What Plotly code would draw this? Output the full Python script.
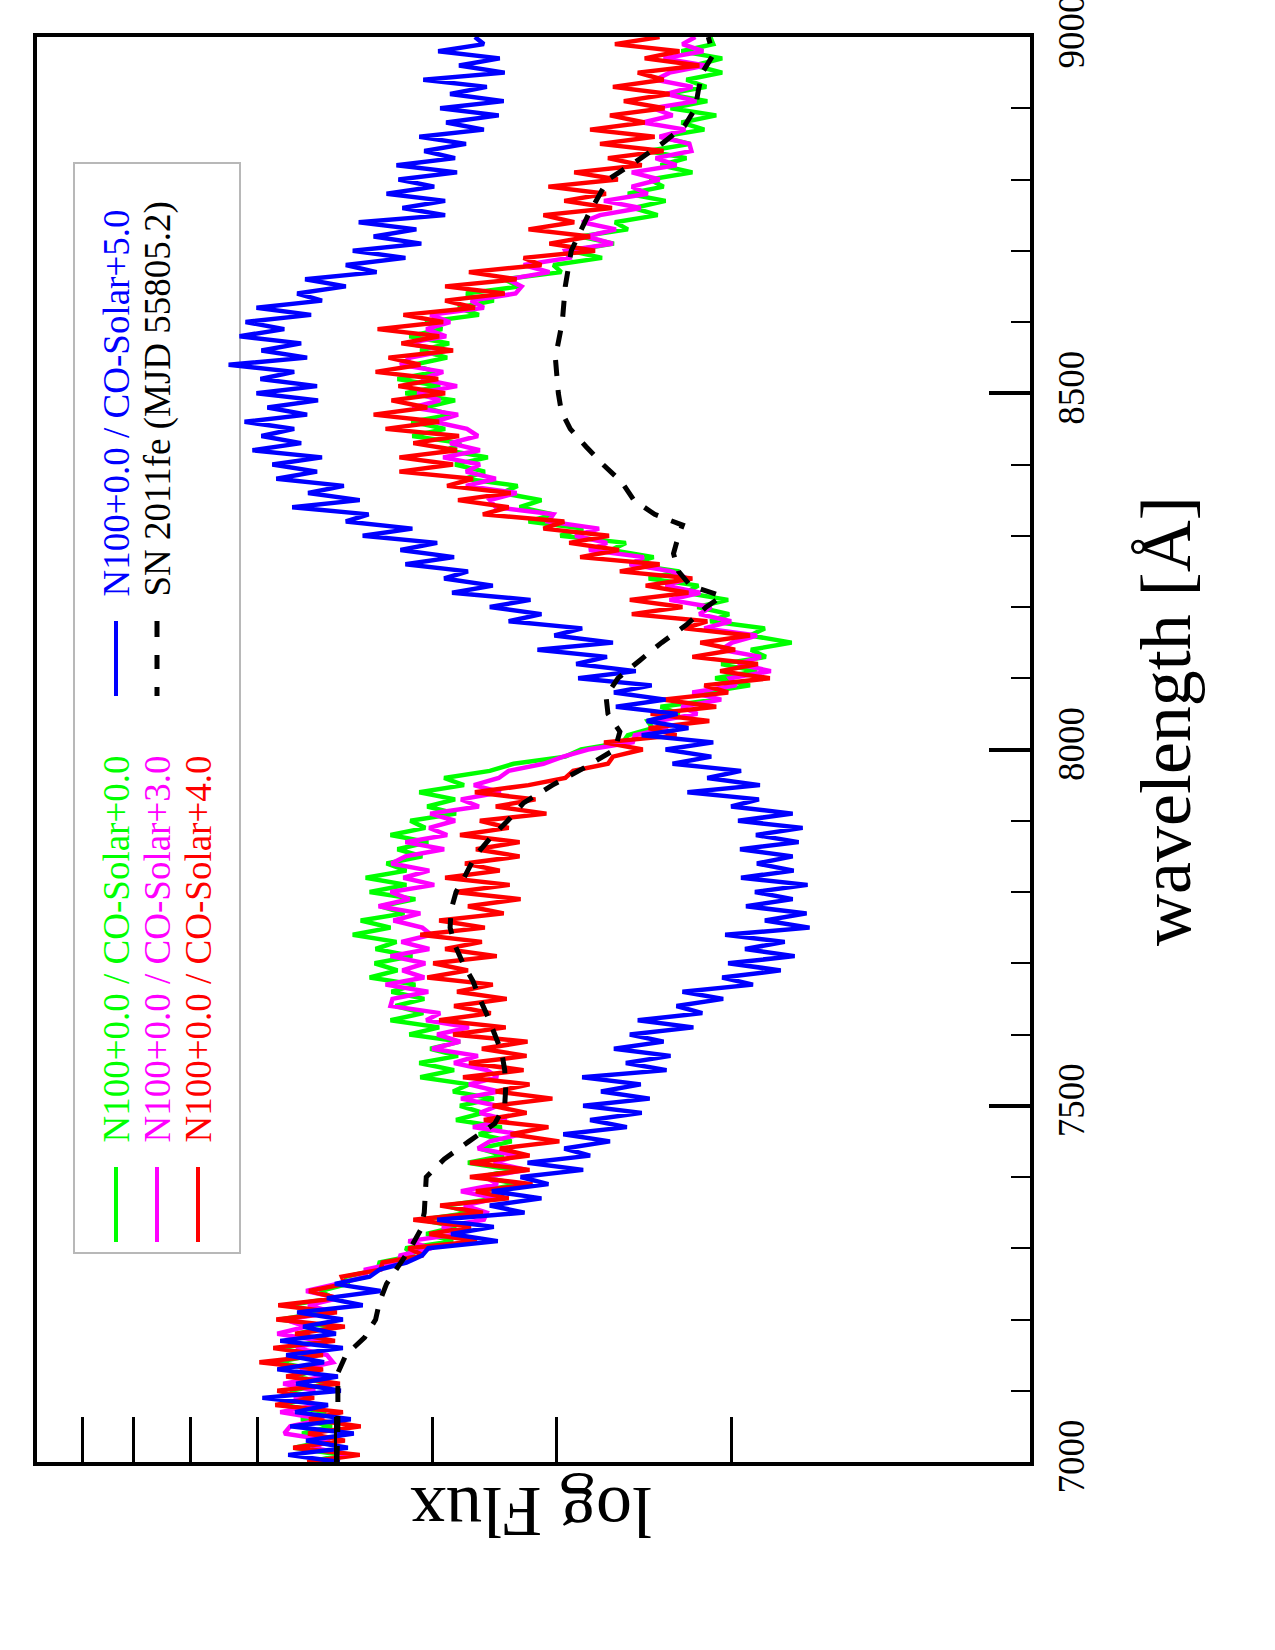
import numpy as np
import plotly.graph_objects as go

# ---------------- data ----------------
# wavelength grid of the model spectra (Angstrom)
wavelength = list(range(7000, 9001, 10))

# log Flux (decades)
green = [
    0.725, 0.694, 0.741, 0.707, 0.733,
    0.703, 0.734, 0.709, 0.753, 0.724,
    0.745, 0.705, 0.740, 0.718, 0.760,
    0.720, 0.753, 0.712, 0.738, 0.706,
    0.755, 0.712, 0.747, 0.701, 0.715,
    0.687, 0.689, 0.657, 0.655, 0.620,
    0.629, 0.581, 0.608, 0.578, 0.612,
    0.564, 0.588, 0.538, 0.555, 0.514,
    0.554, 0.521, 0.566, 0.530, 0.554,
    0.522, 0.555, 0.532, 0.578, 0.551,
    0.574, 0.540, 0.581, 0.565, 0.614,
    0.580, 0.615, 0.576, 0.604, 0.574,
    0.625, 0.595, 0.644, 0.611, 0.639,
    0.610, 0.643, 0.619, 0.665, 0.637,
    0.660, 0.622, 0.659, 0.638, 0.682,
    0.644, 0.674, 0.630, 0.654, 0.619,
    0.665, 0.628, 0.669, 0.628, 0.648,
    0.612, 0.637, 0.606, 0.644, 0.609,
    0.624, 0.578, 0.607, 0.579, 0.615,
    0.570, 0.590, 0.544, 0.520, 0.468,
    0.452, 0.410, 0.405, 0.380, 0.385,
    0.353, 0.372, 0.317, 0.328, 0.282,
    0.317, 0.275, 0.311, 0.266, 0.281,
    0.240, 0.282, 0.267, 0.322, 0.303,
    0.335, 0.304, 0.347, 0.334, 0.384,
    0.353, 0.403, 0.379, 0.422, 0.407,
    0.473, 0.450, 0.505, 0.480, 0.514,
    0.492, 0.532, 0.516, 0.569, 0.549,
    0.579, 0.546, 0.588, 0.573, 0.622,
    0.589, 0.623, 0.583, 0.610, 0.579,
    0.629, 0.594, 0.637, 0.599, 0.621,
    0.587, 0.614, 0.585, 0.625, 0.592,
    0.609, 0.555, 0.576, 0.540, 0.568,
    0.514, 0.530, 0.472, 0.480, 0.431,
    0.463, 0.419, 0.453, 0.405, 0.418,
    0.375, 0.399, 0.367, 0.405, 0.369,
    0.383, 0.340, 0.372, 0.346, 0.385,
    0.342, 0.372, 0.328, 0.351, 0.316,
    0.362, 0.325, 0.366, 0.326, 0.346,
    0.310, 0.338, 0.310, 0.351, 0.319,
    0.322,
]

magenta = [
    0.720, 0.684, 0.723, 0.705, 0.751,
    0.745, 0.711, 0.755, 0.718, 0.741,
    0.720, 0.752, 0.710, 0.735, 0.702,
    0.708, 0.739, 0.714, 0.758, 0.729,
    0.750, 0.701, 0.727, 0.696, 0.729,
    0.698, 0.669, 0.669, 0.636, 0.634,
    0.603, 0.626, 0.575, 0.592, 0.550,
    0.547, 0.570, 0.537, 0.573, 0.536,
    0.549, 0.507, 0.540, 0.516, 0.556,
    0.544, 0.513, 0.561, 0.527, 0.554,
    0.536, 0.573, 0.535, 0.565, 0.536,
    0.547, 0.580, 0.556, 0.602, 0.574,
    0.597, 0.565, 0.608, 0.594, 0.644,
    0.642, 0.606, 0.649, 0.610, 0.632,
    0.609, 0.644, 0.605, 0.633, 0.603,
    0.612, 0.641, 0.614, 0.656, 0.625,
    0.644, 0.600, 0.631, 0.605, 0.643,
    0.629, 0.590, 0.629, 0.587, 0.605,
    0.579, 0.604, 0.555, 0.573, 0.533,
    0.560, 0.535, 0.525, 0.490, 0.470,
    0.445, 0.400, 0.398, 0.365, 0.375,
    0.335, 0.351, 0.311, 0.340, 0.296,
    0.302, 0.261, 0.294, 0.271, 0.311,
    0.300, 0.275, 0.328, 0.301, 0.333,
    0.321, 0.363, 0.332, 0.367, 0.345,
    0.361, 0.403, 0.389, 0.444, 0.426,
    0.458, 0.434, 0.485, 0.480, 0.538,
    0.544, 0.517, 0.568, 0.538, 0.568,
    0.554, 0.591, 0.554, 0.584, 0.556,
    0.567, 0.600, 0.576, 0.622, 0.594,
    0.617, 0.577, 0.613, 0.591, 0.634,
    0.624, 0.587, 0.628, 0.588, 0.608,
    0.584, 0.604, 0.550, 0.563, 0.518,
    0.512, 0.526, 0.484, 0.510, 0.464,
    0.468, 0.420, 0.447, 0.417, 0.451,
    0.433, 0.392, 0.429, 0.385, 0.401,
    0.373, 0.401, 0.356, 0.377, 0.341,
    0.343, 0.373, 0.347, 0.390, 0.360,
    0.380, 0.336, 0.366, 0.340, 0.377,
    0.363, 0.327, 0.369, 0.329, 0.350,
    0.337,
]

red = [
    0.728, 0.675, 0.742, 0.690, 0.727,
    0.674, 0.726, 0.692, 0.760, 0.721,
    0.758, 0.695, 0.749, 0.712, 0.776,
    0.712, 0.762, 0.700, 0.740, 0.690,
    0.759, 0.698, 0.757, 0.697, 0.726,
    0.690, 0.693, 0.654, 0.652, 0.611,
    0.626, 0.557, 0.605, 0.563, 0.621,
    0.551, 0.594, 0.525, 0.558, 0.501,
    0.564, 0.504, 0.564, 0.504, 0.534,
    0.474, 0.523, 0.485, 0.550, 0.507,
    0.541, 0.481, 0.538, 0.504, 0.571,
    0.510, 0.565, 0.507, 0.552, 0.506,
    0.581, 0.528, 0.595, 0.543, 0.580,
    0.527, 0.577, 0.541, 0.607, 0.566,
    0.601, 0.537, 0.589, 0.552, 0.614,
    0.549, 0.595, 0.530, 0.566, 0.513,
    0.579, 0.524, 0.589, 0.534, 0.569,
    0.514, 0.558, 0.514, 0.574, 0.525,
    0.554, 0.487, 0.538, 0.498, 0.559,
    0.505, 0.468, 0.460, 0.425, 0.420,
    0.390, 0.429, 0.356, 0.384, 0.323,
    0.382, 0.316, 0.370, 0.304, 0.328,
    0.262, 0.312, 0.274, 0.340, 0.297,
    0.332, 0.282, 0.348, 0.325, 0.401,
    0.350, 0.403, 0.344, 0.387, 0.340,
    0.413, 0.373, 0.453, 0.414, 0.464,
    0.424, 0.490, 0.469, 0.551, 0.525,
    0.576, 0.523, 0.587, 0.561, 0.635,
    0.581, 0.635, 0.577, 0.621, 0.575,
    0.649, 0.595, 0.661, 0.607, 0.643,
    0.589, 0.636, 0.596, 0.659, 0.614,
    0.646, 0.581, 0.633, 0.595, 0.657,
    0.591, 0.631, 0.559, 0.589, 0.529,
    0.589, 0.517, 0.565, 0.492, 0.510,
    0.438, 0.484, 0.443, 0.505, 0.459,
    0.490, 0.421, 0.469, 0.427, 0.485,
    0.415, 0.459, 0.391, 0.425, 0.369,
    0.433, 0.378, 0.443, 0.388, 0.423,
    0.368, 0.409, 0.363, 0.420, 0.369,
    0.395, 0.333, 0.388, 0.353, 0.418,
    0.373,
]

blue = [
    0.695, 0.747, 0.687, 0.729, 0.681,
    0.745, 0.684, 0.740, 0.707, 0.773,
    0.694, 0.739, 0.697, 0.758, 0.711,
    0.749, 0.692, 0.755, 0.699, 0.732,
    0.692, 0.738, 0.672, 0.708, 0.654,
    0.700, 0.665, 0.655, 0.628, 0.612,
    0.606, 0.536, 0.583, 0.540, 0.597,
    0.509, 0.544, 0.492, 0.542, 0.485,
    0.513, 0.450, 0.506, 0.443, 0.469,
    0.423, 0.470, 0.406, 0.443, 0.391,
    0.450, 0.383, 0.432, 0.392, 0.451,
    0.366, 0.407, 0.362, 0.419, 0.369,
    0.403, 0.339, 0.395, 0.330, 0.356,
    0.309, 0.350, 0.279, 0.310, 0.251,
    0.304, 0.237, 0.287, 0.247, 0.307,
    0.222, 0.267, 0.225, 0.286, 0.239,
    0.277, 0.224, 0.291, 0.238, 0.275,
    0.239, 0.292, 0.233, 0.276, 0.229,
    0.294, 0.239, 0.301, 0.273, 0.345,
    0.272, 0.325, 0.291, 0.360, 0.321,
    0.367, 0.319, 0.391, 0.344, 0.386,
    0.355, 0.417, 0.367, 0.419, 0.381,
    0.455, 0.397, 0.457, 0.426, 0.496,
    0.420, 0.479, 0.451, 0.525, 0.492,
    0.544, 0.503, 0.582, 0.541, 0.590,
    0.566, 0.629, 0.580, 0.634, 0.597,
    0.672, 0.622, 0.689, 0.666, 0.743,
    0.675, 0.727, 0.691, 0.759, 0.718,
    0.763, 0.713, 0.783, 0.734, 0.774,
    0.741, 0.791, 0.728, 0.768, 0.717,
    0.779, 0.718, 0.775, 0.741, 0.807,
    0.728, 0.774, 0.734, 0.796, 0.751,
    0.790, 0.724, 0.779, 0.713, 0.738,
    0.689, 0.730, 0.658, 0.689, 0.629,
    0.682, 0.613, 0.661, 0.618, 0.676,
    0.589, 0.632, 0.589, 0.648, 0.600,
    0.636, 0.577, 0.638, 0.579, 0.610,
    0.568, 0.615, 0.550, 0.588, 0.535,
    0.594, 0.530, 0.584, 0.547, 0.611,
    0.529, 0.575, 0.534, 0.596, 0.550,
    0.559,
]

# observed spectrum SN 2011fe (MJD 55805.2)
sn_wavelength = [7000, 7050, 7100, 7125, 7150, 7175, 7200, 7225, 7250, 7275,
                 7300, 7325, 7350, 7375, 7400, 7425, 7450, 7475, 7500, 7525,
                 7550, 7575, 7600, 7625, 7650, 7675, 7700, 7725, 7750, 7775,
                 7800, 7825, 7850, 7875, 7900, 7925, 7950, 7975, 8000, 8025,
                 8050, 8075, 8100, 8125, 8150, 8175, 8200, 8215, 8230, 8250,
                 8275, 8300, 8315, 8330, 8350, 8375, 8400, 8425, 8450, 8475,
                 8500, 8550, 8600, 8650, 8700, 8750, 8800, 8825, 8850, 8875,
                 8900, 8925, 8950, 8975, 9000]
sn_flux = [0.698, 0.697, 0.697, 0.697, 0.689, 0.670, 0.659, 0.655, 0.648, 0.636,
           0.624, 0.614, 0.610, 0.609, 0.608, 0.590, 0.565, 0.539, 0.529, 0.528,
           0.529, 0.532, 0.539, 0.546, 0.554, 0.561, 0.571, 0.579, 0.584, 0.583,
           0.578, 0.568, 0.559, 0.544, 0.526, 0.510, 0.481, 0.448, 0.418, 0.413,
           0.425, 0.427, 0.415, 0.393, 0.371, 0.346, 0.326, 0.310, 0.342, 0.354,
           0.359, 0.354, 0.350, 0.378, 0.399, 0.411, 0.430, 0.447, 0.463, 0.472,
           0.475, 0.478, 0.471, 0.468, 0.462, 0.445, 0.425, 0.397, 0.371, 0.348,
           0.337, 0.334, 0.330, 0.319, 0.324]

flux_tick_values = [2, 3, 4, 5, 6, 7, 8, 9]
wl_tick_values = [7000, 7500, 8000, 8500, 9000]

series_names = ["N100+0.0 / CO-Solar+0.0", "N100+0.0 / CO-Solar+3.0",
                "N100+0.0 / CO-Solar+4.0", "N100+0.0 / CO-Solar+5.0",
                "SN 2011fe (MJD 55805.2)"]
series_colors = ["#00ff00", "#ff00ff", "#ff0000", "#0000ff", "#000000"]

# ---------------- figure ----------------
FONT = "Liberation Serif"
W, H = 1275, 1650
PL, PR, PT, PB = 37, 1030, 37, 1462   # plot area in pixels


def px(x):
    return (x - PL) / (PR - PL)


def py(y):
    return (PB - y) / (PB - PT)


fig = go.Figure()
for vals, name, col in zip([green, magenta, red, blue], series_names[:4], series_colors[:4]):
    fig.add_trace(go.Scatter(x=vals, y=wavelength, mode="lines", name=name,
                             line=dict(color=col, width=4.5, simplify=False),
                             showlegend=False))
fig.add_trace(go.Scatter(x=sn_flux, y=sn_wavelength, mode="lines", name=series_names[4],
                         line=dict(color="black", width=5, dash="16px,14px", simplify=False),
                         showlegend=False))

shapes = []
annotations = []

# legend box
shapes.append(dict(type="rect", xref="paper", yref="paper",
                   x0=px(74), x1=px(240), y0=py(1253), y1=py(163),
                   line=dict(color="#b8b8b8", width=2), fillcolor="white", layer="below"))

# legend entries: (segment x, segment y range, text bottom y, index)
legend_layout = [
    (116, (1167, 1242), 1145, 0),
    (157, (1167, 1242), 1145, 1),
    (198, (1167, 1242), 1145, 2),
    (116, (621, 696), 599, 3),
    (157, (621, 696), 599, 4),
]
for xp, (ya, yb), ytext, i in legend_layout:
    line = dict(color=series_colors[i], width=4)
    if i == 4:
        line = dict(color="black", width=5, dash="9px,18px,14px,18px,18px")
    shapes.append(dict(type="line", xref="paper", yref="paper",
                       x0=px(xp), x1=px(xp), y0=py(yb), y1=py(ya), line=line))
    annotations.append(dict(x=px(xp), y=py(ytext), xref="paper", yref="paper",
                            text=series_names[i], showarrow=False, textangle=-90,
                            xanchor="center", yanchor="bottom",
                            font=dict(family=FONT, size=37, color=series_colors[i])))

# axis titles
annotations.append(dict(x=px(1166), y=py(721), xref="paper", yref="paper",
                        text="wavelength [Å]", showarrow=False, textangle=-90,
                        xanchor="center", yanchor="middle",
                        font=dict(family=FONT, size=72, color="black")))
annotations.append(dict(x=px(531), y=py(1512), xref="paper", yref="paper",
                        text="log Flux", showarrow=False, textangle=180,
                        xanchor="center", yanchor="middle",
                        font=dict(family=FONT, size=72, color="black")))

fig.update_layout(
    width=W, height=H,
    font=dict(family=FONT, color="black"),
    margin=dict(l=PL, r=W - PR, t=PT, b=H - PB, pad=0, autoexpand=False),
    paper_bgcolor="white", plot_bgcolor="white",
    showlegend=False,
    xaxis=dict(range=[1.0, 0.0], tickmode="array", automargin=False,
               tickvals=[float(np.log10(v)) for v in flux_tick_values],
               ticks="inside", ticklen=45, tickwidth=2.5, tickcolor="black",
               showticklabels=False, showgrid=False, zeroline=False,
               showline=True, linecolor="black", linewidth=4, mirror=True),
    yaxis=dict(range=[7000, 9000], side="right", tickmode="array", automargin=False,
               tickvals=wl_tick_values, ticktext=[str(v) for v in wl_tick_values],
               ticks="inside", ticklen=41, tickwidth=4, tickcolor="black",
               tickangle=-90, ticklabelstandoff=6, ticklabeloverflow="allow",
               tickfont=dict(family=FONT, size=37, color="black"),
               minor=dict(tick0=7000, dtick=100, ticks="inside", ticklen=19,
                          tickwidth=2, tickcolor="black", showgrid=False),
               showgrid=False, zeroline=False,
               showline=True, linecolor="black", linewidth=4, mirror=True),
    shapes=shapes,
    annotations=annotations,
)

fig.write_html("out.html")
